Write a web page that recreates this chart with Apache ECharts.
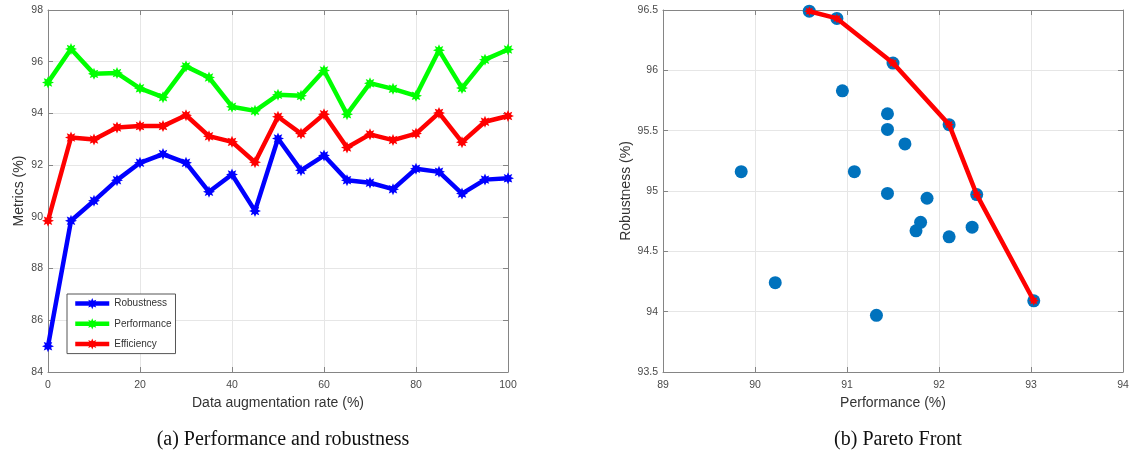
<!DOCTYPE html>
<html><head><meta charset="utf-8">
<script src="https://cdn.jsdelivr.net/npm/echarts@6/dist/echarts.min.js"></script>
<style>html,body{margin:0;padding:0;background:#fff}#c{width:1130px;height:454px}</style>
</head><body><div id="c"></div>
<script>
// ---- data ----
const rates = [0,5,10,15,20,25,30,35,40,45,50,55,60,65,70,75,80,85,90,95,100];
const robustness = [85.0,89.85,90.62,91.42,92.09,92.43,92.09,90.97,91.64,90.23,93.03,91.8,92.37,91.42,91.32,91.07,91.86,91.74,90.9,91.44,91.49];
const performance = [95.2,96.49,95.53,95.56,94.97,94.63,95.82,95.39,94.26,94.1,94.72,94.68,95.66,93.97,95.17,94.95,94.68,96.44,94.98,96.08,96.47];
const efficiency = [89.85,93.07,92.99,93.46,93.51,93.51,93.93,93.12,92.9,92.11,93.87,93.22,93.97,92.68,93.19,92.97,93.22,94.02,92.89,93.68,93.9];
const leftYTicks = [84,86,88,90,92,94,96,98];
const leftXTicks = [0,20,40,60,80,100];

const scatterPerf = [90.59,90.89,90.95,89.85,91.08,91.50,91.44,91.44,91.63,92.11,91.44,91.87,92.41,91.80,91.75,92.11,92.36,93.03,91.32,90.22];
const scatterRob  = [96.49,96.43,95.83,95.16,95.16,96.06,95.64,95.51,95.39,95.55,94.98,94.94,94.97,94.74,94.67,94.62,94.70,94.09,93.97,94.24];
const paretoPerf = [90.59,90.89,91.50,92.11,92.41,93.03];
const paretoRob  = [96.49,96.43,96.06,95.55,94.97,94.09];
const rightXTicks = [89,90,91,92,93,94];
const rightYTicks = [93.5,94,94.5,95,95.5,96,96.5];

// ---- star (asterisk-like) symbol ----
function starPath(){
  let pts=[];
  for(let k=0;k<16;k++){
    const a=(-90+k*22.5)*Math.PI/180, r=(k%2===0)?1:0.55;
    pts.push(((10+10*r*Math.cos(a)).toFixed(2))+' '+((10+10*r*Math.sin(a)).toFixed(2)));
  }
  return 'path://M'+pts.join(' L')+' Z';
}
const STAR = starPath();
const FONT = "'Liberation Sans', Arial, sans-serif";
const AX = '#858585', GRID = '#e6e6e6', LBL = '#4a4a4a';

function pairs(xs, ys){ return xs.map((x,i)=>[x, ys[i]]); }

function mainX(gi, min, max, interval, name){
  return {type:'value', gridIndex:gi, min, max, interval, position:'bottom',
    name, nameLocation:'middle', nameGap:21,
    nameTextStyle:{fontFamily:FONT, fontSize:14, color:'#333'},
    axisLine:{show:true, onZero:false, lineStyle:{color:AX, width:1}},
    axisTick:{show:true, inside:true, length:5, lineStyle:{color:AX}},
    axisLabel:{fontFamily:FONT, fontSize:10.5, color:LBL, margin:8},
    splitLine:{show:true, lineStyle:{color:GRID, width:1}}};
}
function mainY(gi, min, max, interval, name, gap){
  return {type:'value', gridIndex:gi, min, max, interval, position:'left',
    name, nameLocation:'middle', nameGap:gap,
    nameTextStyle:{fontFamily:FONT, fontSize:14, color:'#333'},
    axisLine:{show:true, onZero:false, lineStyle:{color:AX, width:1}},
    axisTick:{show:true, inside:true, length:5, lineStyle:{color:AX}},
    axisLabel:{fontFamily:FONT, fontSize:10.5, color:LBL, margin:5},
    splitLine:{show:true, lineStyle:{color:GRID, width:1}}};
}
function boxX(gi,min,max,interval){
  return {type:'value', gridIndex:gi, min, max, interval, position:'top',
    axisLine:{show:true, onZero:false, lineStyle:{color:AX}},
    axisTick:{show:true, inside:true, length:5, lineStyle:{color:AX}},
    axisLabel:{show:false}, splitLine:{show:false}};
}
function boxY(gi,min,max,interval){
  return {type:'value', gridIndex:gi, min, max, interval, position:'right',
    axisLine:{show:true, onZero:false, lineStyle:{color:AX}},
    axisTick:{show:true, inside:true, length:5, lineStyle:{color:AX}},
    axisLabel:{show:false}, splitLine:{show:false}};
}
function lineSeries(name, ys, color){
  return {name, type:'line', xAxisIndex:0, yAxisIndex:0, data:pairs(rates, ys),
    symbol:STAR, symbolSize:12, showAllSymbol:true,
    lineStyle:{color, width:4.5}, itemStyle:{color, borderWidth:0}, animation:false};
}

const chart = echarts.init(document.getElementById('c'), null, {renderer:'canvas'});
chart.setOption({
  animation:false,
  backgroundColor:'#fff',
  title:[
    {text:'(a) Performance and robustness', left:278, top:425, textAlign:'center',
     textStyle:{fontFamily:"'Liberation Serif', 'Times New Roman', serif", fontSize:20, fontWeight:'normal', color:'#111'}},
    {text:'(b) Pareto Front', left:893, top:425, textAlign:'center',
     textStyle:{fontFamily:"'Liberation Serif', 'Times New Roman', serif", fontSize:20, fontWeight:'normal', color:'#111'}}
  ],
  legend:{
    data:['Robustness','Performance','Efficiency'], orient:'vertical', left:67, top:294,
    padding:[4,4,4,6], itemGap:9, itemWidth:34, itemHeight:14,
    backgroundColor:'#fff', borderColor:'#555', borderWidth:1,
    lineStyle:{width:4.5},
    textStyle:{fontFamily:FONT, fontSize:10, color:'#333'}
  },
  grid:[
    {left:48, top:10, width:460, height:362, outerBoundsMode:'none', containLabel:false},
    {left:663, top:10, width:460, height:362, outerBoundsMode:'none', containLabel:false}
  ],
  xAxis:[
    mainX(0, leftXTicks[0], leftXTicks[leftXTicks.length-1], 20, 'Data augmentation rate (%)'),
    mainX(1, rightXTicks[0], rightXTicks[rightXTicks.length-1], 1, 'Performance (%)'),
    boxX(0, leftXTicks[0], leftXTicks[leftXTicks.length-1], 20),
    boxX(1, rightXTicks[0], rightXTicks[rightXTicks.length-1], 1)
  ],
  yAxis:[
    mainY(0, leftYTicks[0], leftYTicks[leftYTicks.length-1], 2, 'Metrics (%)', 22),
    mainY(1, rightYTicks[0], rightYTicks[rightYTicks.length-1], 0.5, 'Robustness (%)', 30),
    boxY(0, leftYTicks[0], leftYTicks[leftYTicks.length-1], 2),
    boxY(1, rightYTicks[0], rightYTicks[rightYTicks.length-1], 0.5)
  ],
  series:[
    lineSeries('Robustness', robustness, '#0000ff'),
    lineSeries('Performance', performance, '#00ff00'),
    lineSeries('Efficiency', efficiency, '#ff0000'),
    {name:'All', type:'scatter', xAxisIndex:1, yAxisIndex:1, data:pairs(scatterPerf, scatterRob),
     symbol:'circle', symbolSize:13, itemStyle:{color:'#0072bd', opacity:1}, z:2},
    {name:'Pareto', type:'line', xAxisIndex:1, yAxisIndex:1, data:pairs(paretoPerf, paretoRob),
     symbol:STAR, symbolSize:10, showAllSymbol:true,
     lineStyle:{color:'#ff0000', width:4.5}, itemStyle:{color:'#ff0000'}, z:3}
  ]
});
</script></body></html>
